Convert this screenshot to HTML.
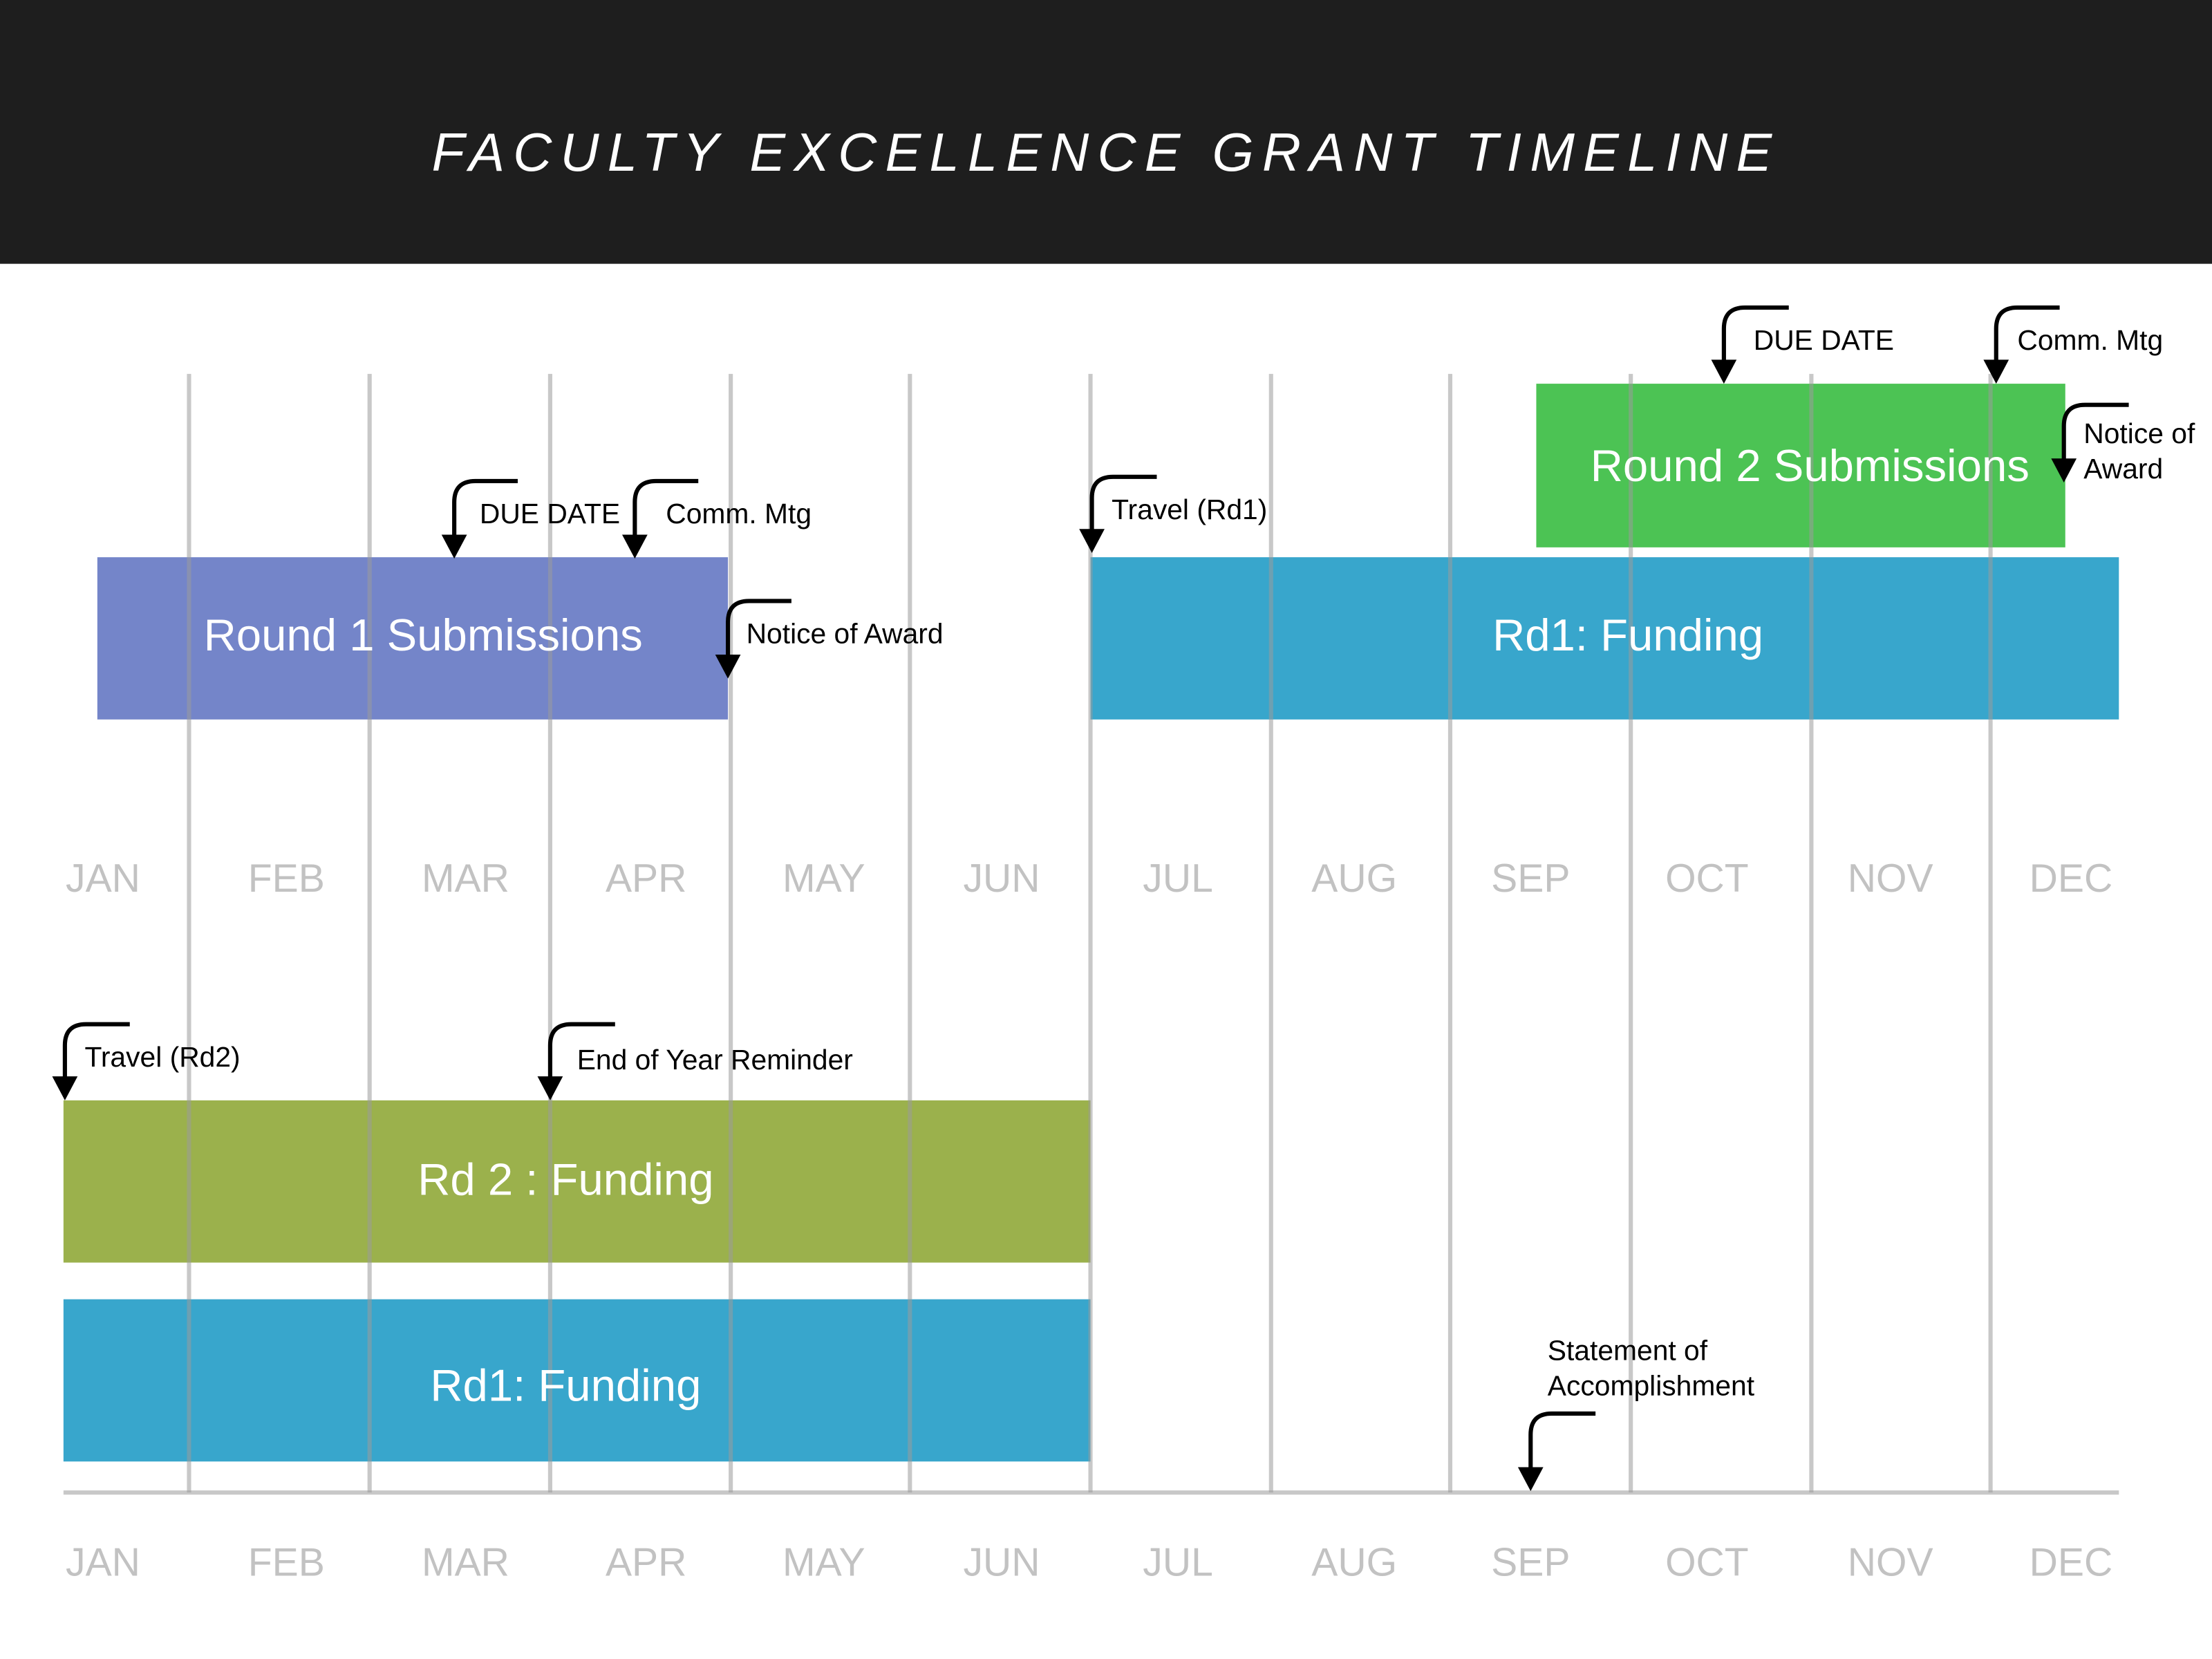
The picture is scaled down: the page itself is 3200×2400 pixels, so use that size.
<!DOCTYPE html>
<html><head><meta charset="utf-8"><style>
html,body{margin:0;padding:0;background:#fff;}
svg{display:block;}
text{font-family:"Liberation Sans",sans-serif;}
</style></head><body>
<svg width="3200" height="2400" viewBox="0 0 1568 1176" xmlns="http://www.w3.org/2000/svg">
<rect x="0" y="0" width="1568" height="1176" fill="#ffffff"/>
<rect x="0" y="0" width="1568" height="187" fill="#1e1e1e"/>
<text x="784" y="121" fill="#ffffff" font-size="38" font-style="italic" letter-spacing="6" text-anchor="middle">FACULTY EXCELLENCE GRANT TIMELINE</text>

<rect x="69" y="395" width="447" height="115" fill="#7485c9"/>
<rect x="773" y="395" width="729" height="115" fill="#38a6cc"/>
<rect x="1089" y="272" width="375" height="116" fill="#4cc354"/>
<rect x="45" y="780" width="728" height="115" fill="#9bb14c"/>
<rect x="45" y="921" width="728" height="115" fill="#38a6cc"/>

<g stroke="#9a9a9a" stroke-opacity="0.55" stroke-width="3">
<line x1="134" y1="265" x2="134" y2="1058"/>
<line x1="262" y1="265" x2="262" y2="1058"/>
<line x1="390" y1="265" x2="390" y2="1058"/>
<line x1="518" y1="265" x2="518" y2="1058"/>
<line x1="645" y1="265" x2="645" y2="1058"/>
<line x1="773" y1="265" x2="773" y2="1058"/>
<line x1="901" y1="265" x2="901" y2="1058"/>
<line x1="1028" y1="265" x2="1028" y2="1058"/>
<line x1="1156" y1="265" x2="1156" y2="1058"/>
<line x1="1284" y1="265" x2="1284" y2="1058"/>
<line x1="1411" y1="265" x2="1411" y2="1058"/>
<line x1="45" y1="1058" x2="1502" y2="1058"/>
</g>

<g fill="#ffffff" font-size="32" text-anchor="middle">
<text x="300" y="461">Round 1 Submissions</text>
<text x="1154" y="461">Rd1: Funding</text>
<text x="1283" y="341">Round 2 Submissions</text>
<text x="401" y="847">Rd 2 : Funding</text>
<text x="401" y="993">Rd1: Funding</text>
</g>

<g fill="#c2c2c2" font-size="28" text-anchor="middle">
<text x="73" y="632">JAN</text><text x="203" y="632">FEB</text><text x="330" y="632">MAR</text><text x="458" y="632">APR</text><text x="584" y="632">MAY</text><text x="710" y="632">JUN</text><text x="835" y="632">JUL</text><text x="960" y="632">AUG</text><text x="1085" y="632">SEP</text><text x="1210" y="632">OCT</text><text x="1340" y="632">NOV</text><text x="1468" y="632">DEC</text>
<text x="73" y="1117">JAN</text><text x="203" y="1117">FEB</text><text x="330" y="1117">MAR</text><text x="458" y="1117">APR</text><text x="584" y="1117">MAY</text><text x="710" y="1117">JUN</text><text x="835" y="1117">JUL</text><text x="960" y="1117">AUG</text><text x="1085" y="1117">SEP</text><text x="1210" y="1117">OCT</text><text x="1340" y="1117">NOV</text><text x="1468" y="1117">DEC</text>
</g>

<g fill="none" stroke="#000" stroke-width="3">
<path d="M367 341 H337 Q322 341 322 356 V382"/>
<path d="M495 341 H465 Q450 341 450 356 V382"/>
<path d="M561 426 H531 Q516 426 516 441 V467"/>
<path d="M820 338 H789 Q774 338 774 353 V378"/>
<path d="M1268 218 H1237 Q1222 218 1222 233 V258"/>
<path d="M1460 218 H1430 Q1415 218 1415 233 V258"/>
<path d="M1509 287 H1478 Q1463 287 1463 302 V328"/>
<path d="M92 726 H61 Q46 726 46 741 V766"/>
<path d="M436 726 H405 Q390 726 390 741 V766"/>
<path d="M1131 1002 H1100 Q1085 1002 1085 1017 V1043"/>
</g>
<g fill="#000">
<polygon points="313,379 331,379 322,396"/>
<polygon points="441,379 459,379 450,396"/>
<polygon points="507,464 525,464 516,481"/>
<polygon points="765,375 783,375 774,392"/>
<polygon points="1213,255 1231,255 1222,272"/>
<polygon points="1406,255 1424,255 1415,272"/>
<polygon points="1454,325 1472,325 1463,342"/>
<polygon points="37,763 55,763 46,780"/>
<polygon points="381,763 399,763 390,780"/>
<polygon points="1076,1040 1094,1040 1085,1057"/>
</g>
<g fill="#000" font-size="20">
<text x="340" y="371">DUE DATE</text>
<text x="472" y="371">Comm. Mtg</text>
<text x="529" y="456">Notice of Award</text>
<text x="788" y="368">Travel (Rd1)</text>
<text x="1243" y="248">DUE DATE</text>
<text x="1430" y="248">Comm. Mtg</text>
<text x="1477" y="314">Notice of</text>
<text x="1477" y="339">Award</text>
<text x="60" y="756">Travel (Rd2)</text>
<text x="409" y="758">End of Year Reminder</text>
<text x="1097" y="964">Statement of</text>
<text x="1097" y="989">Accomplishment</text>
</g>
</svg>
</body></html>
